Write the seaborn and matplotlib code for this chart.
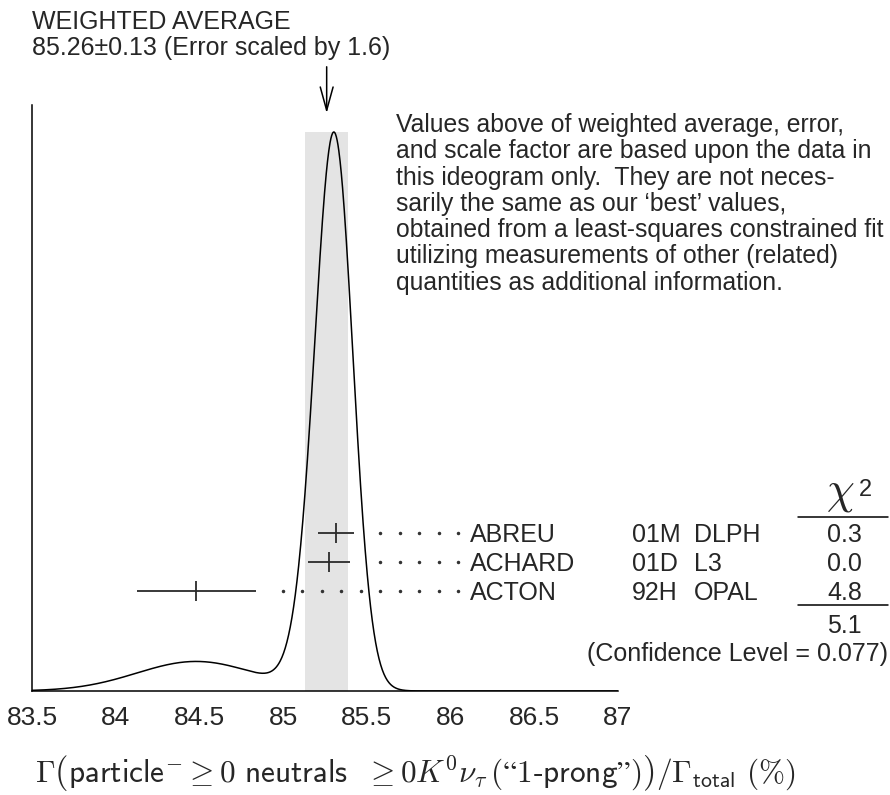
import numpy as np
import matplotlib
matplotlib.use("Agg")
import matplotlib.pyplot as plt
import seaborn as sns

# measurements shown in the ideogram
authors = ["ABREU", "ACHARD", "ACTON"]
years = ["01M", "01D", "92H"]
experiments = ["DLPH", "L3", "OPAL"]
values = [85.316, 85.274, 84.48]
errors = [0.105, 0.128, 0.355]
chi2 = ["0.3", "0.0", "4.8"]
chi2_total = "5.1"
conf_level = "0.077"

# weighted average
avg = 85.26
avg_err = 0.13
scale_factor = 1.6

x_ticks = [83.5, 84, 84.5, 85, 85.5, 86, 86.5, 87]

note = [
    "Values above of weighted average, error,",
    "and scale factor are based upon the data in",
    "this ideogram only.  They are not neces-",
    "sarily the same as our \u2018best\u2019 values,",
    "obtained from a least-squares constrained fit",
    "utilizing measurements of other (related)",
    "quantities as additional information.",
]

sns.set_style("white")
plt.rcParams["font.family"] = ["Liberation Sans", "DejaVu Sans"]
plt.rcParams["mathtext.fontset"] = "cm"

W, H = 890, 795
fig = plt.figure(figsize=(W / 100, H / 100), dpi=100)

# plot area in pixels
left_px, right_px = 32, 618
base_px, top_px, peak_px = 691, 105, 132

ax = fig.add_axes([left_px / W, (H - base_px) / H,
                   (right_px - left_px) / W, (base_px - top_px) / H])

# ideogram: sum of gaussians, height ~ 1/sigma^2
grid = np.linspace(83.5, 87, 1401)
curve = np.zeros_like(grid)
for v, e in zip(values, errors):
    curve += np.exp(-0.5 * ((grid - v) / e) ** 2) / e ** 2
peak = curve.max()

ax.fill_between([avg - avg_err, avg + avg_err], 0, peak,
                color="#e4e4e4", lw=0, zorder=0)
sns.lineplot(x=grid, y=curve, ax=ax, color="black", lw=1.1, sort=False)

ax.set_xlim(83.5, 87)
ax.set_ylim(0, peak * (base_px - top_px) / (base_px - peak_px))
ax.set_xticks(x_ticks)
ax.set_xticklabels([f"{t:g}" for t in x_ticks])
ax.set_yticks([])
ax.tick_params(axis="x", direction="in", length=14, width=1.0,
               labelsize=19, pad=11, color="black")
for s in ["top", "right"]:
    ax.spines[s].set_visible(False)
for s in ["left", "bottom"]:
    ax.spines[s].set_color("black")
    ax.spines[s].set_linewidth(1.1)
ax.set_xlabel("")
ax.set_ylabel("")

# measurement rows, row index -> pixel row
row0_px, row_h = 533, 29
ax2 = fig.add_axes(ax.get_position(), sharex=ax)
ax2.set_ylim((base_px - row0_px) / row_h, (top_px - row0_px) / row_h)
ax2.axis("off")
rows = np.arange(len(values))
ax2.errorbar(values, rows, xerr=errors, fmt="none", ecolor="#2a2a2a",
             elinewidth=1.3, capsize=0)
ax2.plot(values, rows, ls="none", marker="|", ms=14, mew=1.3, color="#2a2a2a")

# dotted leaders to the names
dot_end, dot_step = 86.045, 0.1165
dot_grid = dot_end - dot_step * np.arange(40)
for r, v, e in zip(rows, values, errors):
    xd = dot_grid[dot_grid > v + e + 0.09]
    ax2.plot(xd, [r] * len(xd), ls="none", marker="o", ms=1.5,
             color="#333333")

# text overlay in pixel coordinates
ov = fig.add_axes([0, 0, 1, 1])
ov.set_xlim(0, W)
ov.set_ylim(H, 0)
ov.axis("off")

fs = 18
ov.text(32, 29, "WEIGHTED AVERAGE", fontsize=fs, va="baseline")
ov.text(32, 55, f"{avg:.2f}\u00b1{avg_err:.2f} (Error scaled by {scale_factor})",
        fontsize=fs, va="baseline")

x_avg_px = left_px + (avg - 83.5) / 3.5 * (right_px - left_px)
ov.annotate("", xy=(x_avg_px, 116), xytext=(x_avg_px, 64),
            arrowprops=dict(arrowstyle="->,head_length=1.2,head_width=0.33",
                            mutation_scale=14, lw=1.1, color="black"))

for i, line in enumerate(note):
    ov.text(396, 132 + 26.3 * i, line, fontsize=17.8, va="baseline")

for i in range(len(authors)):
    y = row0_px + 9 + row_h * i
    ov.text(470, y, authors[i], fontsize=fs, va="baseline")
    ov.text(632, y, years[i], fontsize=fs, va="baseline")
    ov.text(694, y, experiments[i], fontsize=fs, va="baseline")
    ov.text(862, y, chi2[i], fontsize=fs, va="baseline", ha="right")

ov.text(840, 503, r"$\chi$", fontsize=32, va="baseline", ha="center")
ov.text(865, 496, "2", fontsize=17, va="baseline", ha="center")
ov.plot([798, 888], [517, 517], color="black", lw=1.1)
ov.plot([798, 888], [605, 605], color="black", lw=1.1)
ov.text(862, 633, chi2_total, fontsize=fs, va="baseline", ha="right")
ov.text(888, 661, f"(Confidence Level = {conf_level})", fontsize=fs,
        va="baseline", ha="right")

xlabel = (r"$\Gamma\left(\mathsf{particle}^{-}\geq \mathsf{0}\ \mathsf{neutrals}\ \ \geq \mathsf{0}K^{\mathsf{0}}\nu_\tau"
          "\\,\\mathsf{(\u201c1\u2010prong\u201d)}\\right)/\\Gamma_{\\mathsf{total}}\\ \\mathsf{(\\%)}$")
ov.text(415, 782, xlabel, fontsize=22.5, va="baseline", ha="center")

fig.savefig("out.png", dpi=100)
